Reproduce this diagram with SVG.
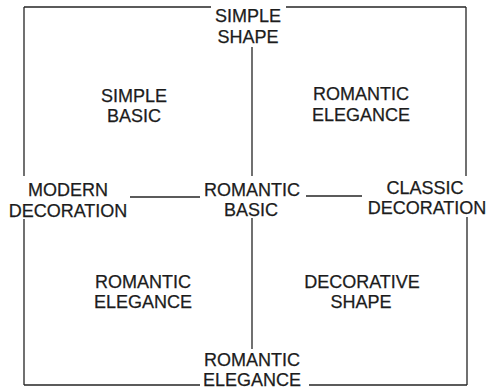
<svg xmlns="http://www.w3.org/2000/svg" width="495" height="389" viewBox="0 0 495 389">
<style>
.t{font-family:"Liberation Sans",Arial,sans-serif;font-size:18px;fill:#1c1c1c;stroke:#1c1c1c;stroke-width:0.25;text-anchor:middle}
.l{stroke:#262626;stroke-width:1.3;fill:none}
</style>
<rect width="495" height="389" fill="#ffffff"/>
<g id="connectors">
<path class="l" d="M24,7 H211 M286,7 H466 M24,7 V176 M24,219 V385 M466,7 V176 M467,217 V385 M24,385 H200 M309,385 H467 M252,47 V176 M252,218 V349 M130,197 H200 M306,196 H362"/>
</g>
<g id="simple-shape"><text class="t" x="248" y="22">SIMPLE</text><text class="t" x="248" y="43">SHAPE</text></g>
<g id="simple-basic"><text class="t" x="134" y="102">SIMPLE</text><text class="t" x="134" y="122">BASIC</text></g>
<g id="romantic-elegance-tr"><text class="t" x="361" y="100">ROMANTIC</text><text class="t" x="361" y="121">ELEGANCE</text></g>
<g id="modern-decoration"><text class="t" x="68" y="196">MODERN</text><text class="t" x="68" y="217">DECORATION</text></g>
<g id="romantic-basic"><text class="t" x="252" y="196">ROMANTIC</text><text class="t" x="251" y="216">BASIC</text></g>
<g id="classic-decoration"><text class="t" x="425" y="194">CLASSIC</text><text class="t" x="427" y="214">DECORATION</text></g>
<g id="romantic-elegance-bl"><text class="t" x="143" y="288">ROMANTIC</text><text class="t" x="143" y="308">ELEGANCE</text></g>
<g id="decorative-shape"><text class="t" x="362" y="288">DECORATIVE</text><text class="t" x="361" y="308">SHAPE</text></g>
<g id="romantic-elegance-b"><text class="t" x="252" y="366">ROMANTIC</text><text class="t" x="252" y="386">ELEGANCE</text></g>
</svg>
